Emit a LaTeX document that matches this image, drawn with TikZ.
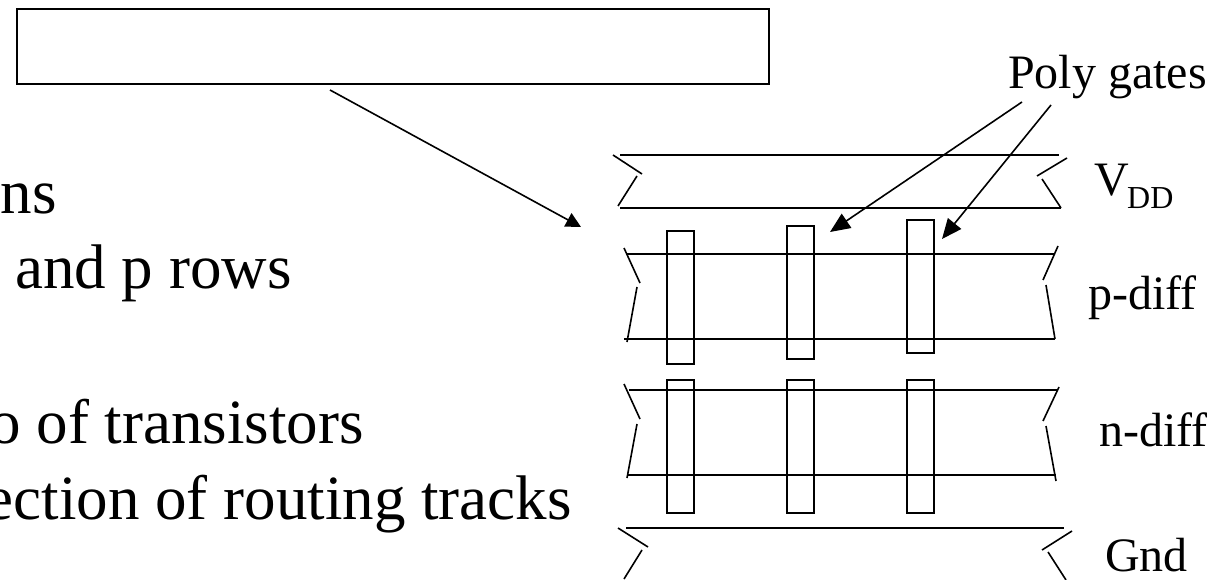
\documentclass[tikz,border=0pt]{standalone}
\usepackage{fontspec}
\setmainfont{Liberation Serif}
\usetikzlibrary{arrows.meta}
\tikzset{
  x=1pt,y=-1pt,
  ln/.style={line width=1.6pt,black},
  tip/.style={ln,-{Triangle[length=15pt,width=15pt]}},
  tipb/.style={ln,-{Triangle[length=20pt,width=17pt]}},
  gate/.style={draw,line width=1.6pt,minimum width=27pt,minimum height=133pt,anchor=north west,inner sep=0pt},
  big/.style={font=\fontsize{63}{63}\selectfont,anchor=base east,inner sep=0pt},
  bigl/.style={font=\fontsize{63}{63}\selectfont,anchor=base west,inner sep=0pt},
  lab/.style={font=\fontsize{48}{48}\selectfont,anchor=base west,inner sep=0pt}
}
\begin{document}
\begin{tikzpicture}
\useasboundingbox (0,0) rectangle (1222,580);
\clip (0,0) rectangle (1222,580);
\fill[white] (0,0) rectangle (1222,580);
\node[draw,line width=1.6pt,minimum width=752pt,minimum height=75pt,anchor=north west,inner sep=0pt] (box) at (16,8) {};
\coordinate (a0) at (330,90);
\coordinate (a1) at (581,227);
\draw[tip] (a0) -- (a1);
\node[big] (t1) at (57,213) {ons};
\node[bigl] (t2) at (15,288) {and p rows};
\node[big] (t3) at (364,443) {o of transistors};
\node[big] (t4) at (572,519) {ection of routing tracks};
\node[lab] (pg) at (1008,89) {Poly gates};
\coordinate (pa0) at (1022,102);
\coordinate (pa1) at (830,232);
\coordinate (pb0) at (1051,105);
\coordinate (pb1) at (942,239);
\draw[tipb] (pa0) -- (pa1);
\draw[tipb] (pb0) -- (pb1);
\node[lab] (vdd) at (1094,196) {V};
\node[anchor=base west,inner sep=0pt,font=\fontsize{32}{32}\selectfont] (dd) at (1127,208) {DD};
\node[lab] (pd) at (1088,309) {p-diff};
\node[lab] (nd) at (1099,446) {n-diff};
\node[lab] (gnd) at (1105,571) {Gnd};
% VDD rail
\draw[ln] (620,155) -- (1059,155);
\draw[ln] (620,208) -- (1061,208);
\draw[ln] (613,155) -- (642,174);
\draw[ln] (637,176) -- (618,206);
\draw[ln] (1067,158) -- (1037,176);
\draw[ln] (1042,179) -- (1061,208);
% gates
\foreach \n/\x/\y in {p1/666/230,p2/786/225,p3/906/219,n1/666/379,n2/786/379,n3/906/379}{
  \node[gate] (\n) at (\x,\y) {};
}
% p-diff
\draw[ln] (626,254) -- (1055,254);
\draw[ln] (624,339) -- (1055,339);
\draw[ln] (624,248) -- (640,283);
\draw[ln] (637,287) -- (627,342);
\draw[ln] (1058,246) -- (1043,280);
\draw[ln] (1046,285) -- (1055,339);
% n-diff
\draw[ln] (629,390) -- (1057,390);
\draw[ln] (627,475) -- (1056,475);
\draw[ln] (624,384) -- (640,419);
\draw[ln] (637,424) -- (627,478);
\draw[ln] (1059,387) -- (1043,421);
\draw[ln] (1046,426) -- (1056,481);
% Gnd rail
\draw[ln] (626,528) -- (1064,528);
\draw[ln] (618,528) -- (648,547);
\draw[ln] (642,550) -- (624,579);
\draw[ln] (1072,531) -- (1042,550);
\draw[ln] (1048,552) -- (1066,580);
\end{tikzpicture}
\end{document}
